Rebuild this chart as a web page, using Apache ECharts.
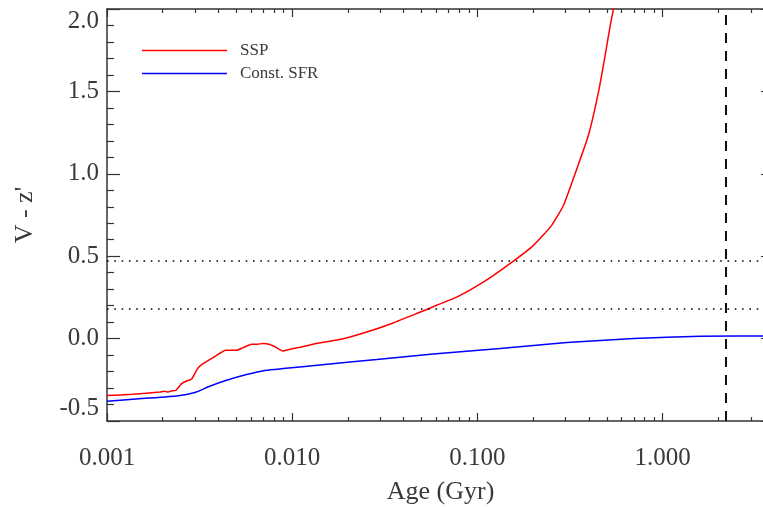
<!DOCTYPE html>
<html>
<head>
<meta charset="utf-8">
<script src="https://cdn.jsdelivr.net/npm/echarts@6/dist/echarts.min.js"></script>
<style>html,body{margin:0;padding:0;background:#fff;}#c{width:763px;height:507px;}</style>
</head>
<body>
<div id="c"></div>
<script>
// ---- data ----
const ageSSP = [0.001,0.00138,0.00193,0.00205,0.00214,0.00223,0.00235,0.00242,0.00253,0.00269,0.00286,0.00298,0.00310,0.00330,0.00374,0.00438,0.00501,0.00543,0.00603,0.00642,0.00697,0.00758,0.00824,0.00887,0.00972,0.0110,0.0135,0.0181,0.0253,0.0351,0.0470,0.0603,0.0774,0.1077,0.150,0.201,0.252,0.292,0.345,0.398,0.451,0.490,0.522,0.562];
const vzSSP  = [-0.346,-0.338,-0.324,-0.320,-0.324,-0.318,-0.314,-0.300,-0.273,-0.257,-0.247,-0.212,-0.178,-0.152,-0.115,-0.071,-0.071,-0.055,-0.035,-0.035,-0.029,-0.036,-0.055,-0.075,-0.065,-0.053,-0.030,-0.006,0.040,0.095,0.152,0.202,0.252,0.343,0.455,0.566,0.687,0.809,1.032,1.234,1.496,1.719,1.901,2.083];
const ageConst = [0.001,0.00138,0.00237,0.00280,0.00304,0.00359,0.00442,0.00567,0.00727,0.00894,0.0110,0.0205,0.0286,0.0578,0.1327,0.304,0.697,1.599,4.0];
const vzConst  = [-0.380,-0.368,-0.348,-0.334,-0.324,-0.289,-0.253,-0.218,-0.192,-0.182,-0.172,-0.142,-0.127,-0.093,-0.060,-0.024,0.000,0.014,0.016];
const seriesNames = ['SSP', 'Const. SFR'];
const colorLevels = [0.47, 0.18];   // dotted horizontal reference lines
const refAge = 2.2;                 // dashed vertical line (Gyr)
const xMin = 0.001, xMax = 4.0;
const yMin = -0.5, yMax = 2.0, yStep = 0.5;
const xTitle = 'Age (Gyr)';
const yTitle = "V - z'";

// ---- chart ----
const FONT = "'Liberation Serif','Times New Roman',serif";
const AX = '#333';
const TXT = '#3a3a3a';
const gridBox = {left: 107, top: 9, width: 667, height: 412, outerBoundsMode: 'none', containLabel: false};

// minor tick positions in log10 space
const minorLog = [];
for (let d = -3; d <= 0; d++) {
  for (let k = 2; k <= 9; k++) {
    const v = k * Math.pow(10, d);
    if (v < xMax) minorLog.push(Math.log10(v));
  }
}

function isPow10(v) {
  const l = Math.log10(v);
  return Math.abs(l - Math.round(l)) < 1e-6;
}

const chart = echarts.init(document.getElementById('c'), null, {renderer: 'canvas'});
const option = {
  animation: false,
  backgroundColor: '#fff',
  grid: [Object.assign({}, gridBox), Object.assign({}, gridBox)],
  legend: {
    left: 137, top: 37, orient: 'vertical',
    icon: 'rect', itemWidth: 85, itemHeight: 1.5, itemGap: 6,
    textStyle: {fontFamily: FONT, fontSize: 17, color: TXT, lineHeight: 16, padding: [0, 0, 0, 8]},
    data: seriesNames
  },
  xAxis: [
    { type: 'log', gridIndex: 0, position: 'bottom', min: xMin, max: xMax, logBase: 10,
      axisLine: {show: true, onZero: false, lineStyle: {color: AX, width: 1.5}},
      axisTick: {show: true, inside: true, length: 8, lineStyle: {color: AX, width: 1.2}},
      axisLabel: {show: true, margin: 25, fontFamily: FONT, fontSize: 25, color: TXT,
        formatter: v => isPow10(v) ? v.toFixed(3) : ''},
      splitLine: {show: false}, minorTick: {show: false},
      name: xTitle, nameLocation: 'middle', nameGap: 58,
      nameTextStyle: {fontFamily: FONT, fontSize: 26, color: TXT}
    },
    { type: 'log', gridIndex: 0, position: 'top', min: xMin, max: xMax, logBase: 10,
      axisLine: {show: true, onZero: false, lineStyle: {color: AX, width: 1.5}},
      axisTick: {show: true, inside: true, length: 8, lineStyle: {color: AX, width: 1.2}},
      axisLabel: {show: false}, splitLine: {show: false}
    },
    { type: 'value', gridIndex: 1, position: 'bottom', min: -3, max: Math.log10(xMax),
      axisLine: {show: false, onZero: false},
      axisTick: {show: true, inside: true, length: 4, customValues: minorLog, lineStyle: {color: AX, width: 1.2}},
      axisLabel: {show: false}, splitLine: {show: false}
    },
    { type: 'value', gridIndex: 1, position: 'top', min: -3, max: Math.log10(xMax),
      axisLine: {show: false, onZero: false},
      axisTick: {show: true, inside: true, length: 4, customValues: minorLog, lineStyle: {color: AX, width: 1.2}},
      axisLabel: {show: false}, splitLine: {show: false}
    }
  ],
  yAxis: [
    { type: 'value', gridIndex: 0, position: 'left', min: yMin, max: yMax, interval: yStep,
      axisLine: {show: true, onZero: false, lineStyle: {color: AX, width: 1.5}},
      axisTick: {show: true, inside: true, length: 13, lineStyle: {color: AX, width: 1.2}},
      minorTick: {show: true, splitNumber: 5, length: 7, lineStyle: {color: AX, width: 1.2}},
      axisLabel: {show: true, margin: 8, fontFamily: FONT, fontSize: 25, color: TXT,
        formatter: v => v.toFixed(1), verticalAlignMaxLabel: 'top', verticalAlignMinLabel: 'bottom'},
      splitLine: {show: false},
      name: yTitle, nameLocation: 'middle', nameGap: 69, nameRotate: 90,
      nameTextStyle: {fontFamily: FONT, fontSize: 26, color: TXT}
    },
    { type: 'value', gridIndex: 0, position: 'right', min: yMin, max: yMax, interval: yStep,
      axisLine: {show: true, onZero: false, lineStyle: {color: AX, width: 1.5}},
      axisTick: {show: true, inside: true, length: 13, lineStyle: {color: AX, width: 1.2}},
      minorTick: {show: true, splitNumber: 5, length: 7, lineStyle: {color: AX, width: 1.2}},
      axisLabel: {show: false}, splitLine: {show: false}
    },
    { type: 'value', gridIndex: 1, min: yMin, max: yMax, show: false }
  ],
  series: [
    { name: seriesNames[0], type: 'line', xAxisIndex: 0, yAxisIndex: 0,
      data: ageSSP.map((a, i) => [a, vzSSP[i]]),
      showSymbol: false, symbol: 'none', color: '#ff0000', smooth: 0.15,
      lineStyle: {color: '#ff0000', width: 1.5}, clip: true, z: 3,
      markLine: {
        silent: true, symbol: 'none', label: {show: false}, animation: false,
        data: [
          {yAxis: colorLevels[0], lineStyle: {color: '#000', width: 1.6, type: [1.6, 5.7]}},
          {yAxis: colorLevels[1], lineStyle: {color: '#000', width: 1.6, type: [1.6, 5.7]}},
          {xAxis: refAge, lineStyle: {color: '#111', width: 2, type: [10, 8]}}
        ]
      }
    },
    { name: seriesNames[1], type: 'line', xAxisIndex: 0, yAxisIndex: 0,
      data: ageConst.map((a, i) => [a, vzConst[i]]),
      showSymbol: false, symbol: 'none', color: '#0000ff', smooth: 0.15,
      lineStyle: {color: '#0000ff', width: 1.5}, clip: true, z: 3
    }
  ]
};
chart.setOption(option);
</script>
</body>
</html>
